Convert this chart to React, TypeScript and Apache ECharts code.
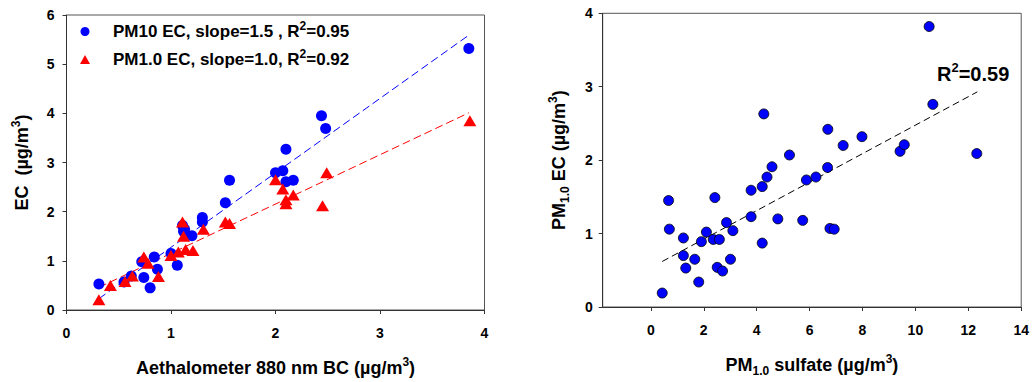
import React, { useEffect, useRef } from "react";
import * as echarts from "echarts";

// Left panel: Aethalometer BC vs EC
const pm10BC = [0.31, 0.55, 0.62, 0.72, 0.74, 0.80, 0.84, 0.87, 1.00, 1.06, 1.11, 1.13, 1.12, 1.20, 1.30, 1.30, 1.52, 1.56, 2.00, 2.07, 2.10, 2.10, 2.17, 2.44, 2.48, 3.85];
const pm10EC = [0.53, 0.57, 0.69, 0.98, 0.66, 0.45, 1.08, 0.83, 1.15, 0.91, 1.72, 1.64, 1.60, 1.51, 1.88, 1.79, 2.18, 2.64, 2.79, 2.83, 3.27, 2.61, 2.64, 3.95, 3.69, 5.32];
const pm1BC = [0.31, 0.42, 0.56, 0.63, 0.74, 0.78, 0.88, 1.00, 1.07, 1.11, 1.12, 1.14, 1.21, 1.31, 1.52, 1.56, 2.00, 2.07, 2.10, 2.10, 2.17, 2.45, 2.49, 3.86];
const pm1EC = [0.21, 0.50, 0.58, 0.69, 1.08, 0.95, 0.68, 1.11, 1.18, 1.79, 1.50, 1.23, 1.21, 1.64, 1.79, 1.76, 2.65, 2.46, 2.24, 2.16, 2.34, 2.12, 2.79, 3.85];
const pm10FitX = [0.31, 3.85];
const pm10FitY = [0.23, 5.59];
const pm1FitX = [0.31, 3.85];
const pm1FitY = [0.46, 4.01];

// Right panel: PM1.0 sulfate vs PM1.0 EC
const sulfate = [0.43, 0.67, 0.70, 1.23, 1.23, 1.32, 1.66, 1.81, 1.91, 2.10, 2.36, 2.42, 2.51, 2.59, 2.71, 2.86, 3.01, 3.10, 3.79, 3.79, 4.21, 4.21, 4.27, 4.39, 4.58, 4.80, 5.24, 5.74, 5.88, 6.24, 6.68, 6.69, 6.77, 6.93, 7.27, 7.98, 9.42, 9.58, 10.52, 10.66, 12.32];
const ecPM1 = [0.19, 1.45, 1.06, 0.94, 0.70, 0.53, 0.65, 0.34, 0.89, 1.02, 0.92, 1.49, 0.54, 0.92, 0.49, 1.15, 0.65, 1.04, 1.59, 1.23, 0.87, 1.64, 2.63, 1.77, 1.91, 1.20, 2.07, 1.18, 1.73, 1.77, 1.90, 2.42, 1.07, 1.06, 2.20, 2.32, 2.12, 2.21, 3.82, 2.76, 2.09];
const sulfFitX = [0.43, 12.34];
const sulfFitY = [0.62, 2.93];

const leftXTicks = [0, 1, 2, 3, 4];
const leftYTicks = [0, 1, 2, 3, 4, 5, 6];
const rightXTicks = [0, 2, 4, 6, 8, 10, 12, 14];
const rightYTicks = [0, 1, 2, 3, 4];

const legendLabels: Record<string, string> = {
  "PM10 EC": "{b|PM10 EC, slope=1.5 , R}{sup|2}{b|=0.95}",
  "PM1.0 EC": "{b|PM1.0 EC, slope=1.0, R}{sup|2}{b|=0.92}",
};

const FONT = "'Liberation Sans', Arial, Helvetica, sans-serif";

const pairs = (xs: number[], ys: number[]) => xs.map((x, i) => [x, ys[i]]);

function richFor(size: number, supSize: number) {
  return {
    b: { fontFamily: FONT, fontWeight: "bold", fontSize: size, color: "#000", lineHeight: size + 6 },
    sup: { fontFamily: FONT, fontWeight: "bold", fontSize: supSize, color: "#000", lineHeight: supSize + 2, verticalAlign: "top" },
    sub: { fontFamily: FONT, fontWeight: "bold", fontSize: supSize, color: "#000", lineHeight: supSize + 2, verticalAlign: "bottom" },
  };
}

export default function App() {
  const ref = useRef<HTMLDivElement>(null);
  useEffect(() => {
    const chart = echarts.init(ref.current!, null, { renderer: "svg" });
    const axisLine = { show: true, onZero: false, lineStyle: { color: "#333", width: 1 } };
    const axisTick = { show: true, inside: false, length: 4, lineStyle: { color: "#333", width: 1 } };
    const tickLabel = { fontFamily: FONT, fontWeight: "bold", fontSize: 14, color: "#000" };
    chart.setOption({
      animation: false,
      backgroundColor: "#fff",
      grid: [
        { left: 66.5, top: 15, width: 418, height: 300.7, show: true, borderColor: "#555", borderWidth: 1, containLabel: false },
        { left: 602.7, top: 13.3, width: 420, height: 301.7, show: true, borderColor: "#555", borderWidth: 1, containLabel: false },
      ],
      legend: {
        orient: "vertical",
        left: 80,
        top: 20,
        padding: 0,
        itemGap: 8,
        itemWidth: 10,
        itemHeight: 9,
        data: [
          { name: "PM10 EC", icon: "circle" },
          { name: "PM1.0 EC", icon: "triangle" },
        ],
        formatter: (n: string) => legendLabels[n],
        textStyle: { padding: [0, 0, 0, 18], rich: richFor(17, 12) },
      },
      xAxis: [
        {
          gridIndex: 0, type: "value", min: 0, max: 4, interval: 1,
          axisLine, axisTick, splitLine: { show: false },
          axisLabel: { ...tickLabel, margin: 16, customValues: leftXTicks },
          name: "{b|Aethalometer 880 nm BC (µg/m}{sup|3}{b|)}",
          nameLocation: "middle", nameGap: 46,
          nameTextStyle: { rich: richFor(18, 12) },
        },
        {
          gridIndex: 1, type: "value", min: -1.82, max: 14,
          axisLine, splitLine: { show: false },
          axisTick: { ...axisTick, customValues: rightXTicks },
          axisLabel: { ...tickLabel, margin: 16, customValues: rightXTicks },
          name: "{b|PM}{sub|1.0}{b| sulfate (µg/m}{sup|3}{b|)}",
          nameLocation: "middle", nameGap: 46,
          nameTextStyle: { rich: richFor(18, 12) },
        },
      ],
      yAxis: [
        {
          gridIndex: 0, type: "value", min: 0, max: 6, interval: 1,
          axisLine, axisTick, splitLine: { show: false },
          axisLabel: { ...tickLabel, margin: 12, customValues: leftYTicks },
          name: "{b|EC  (µg/m}{sup|3}{b|)}",
          nameLocation: "middle", nameGap: 33, nameRotate: 90,
          nameTextStyle: { rich: richFor(18, 12) },
        },
        {
          gridIndex: 1, type: "value", min: 0, max: 4, interval: 1,
          axisLine, axisTick, splitLine: { show: false },
          axisLabel: { ...tickLabel, margin: 10, customValues: rightYTicks },
          name: "{b|PM}{sub|1.0}{b| EC (µg/m}{sup|3}{b|)}",
          nameLocation: "middle", nameGap: 32, nameRotate: 90,
          nameTextStyle: { rich: richFor(18, 12) },
        },
      ],
      series: [
        {
          name: "PM10 EC fit", type: "line", xAxisIndex: 0, yAxisIndex: 0,
          data: pairs(pm10FitX, pm10FitY), symbol: "none",
          lineStyle: { color: "#0000ff", width: 1, type: [8, 4] }, silent: true, z: 1,
        },
        {
          name: "PM1.0 EC fit", type: "line", xAxisIndex: 0, yAxisIndex: 0,
          data: pairs(pm1FitX, pm1FitY), symbol: "none",
          lineStyle: { color: "#ff0000", width: 1, type: [8, 4] }, silent: true, z: 1,
        },
        {
          name: "PM10 EC", type: "scatter", xAxisIndex: 0, yAxisIndex: 0,
          data: pairs(pm10BC, pm10EC), symbol: "circle", symbolSize: 11,
          itemStyle: { color: "#0000ff", opacity: 1 }, z: 2,
        },
        {
          name: "PM1.0 EC", type: "scatter", xAxisIndex: 0, yAxisIndex: 0,
          data: pairs(pm1BC, pm1EC), symbol: "triangle", symbolSize: [13, 11],
          itemStyle: { color: "#ff0000", opacity: 1 }, z: 3,
        },
        {
          name: "Sulfate fit", type: "line", xAxisIndex: 1, yAxisIndex: 1,
          data: pairs(sulfFitX, sulfFitY), symbol: "none",
          lineStyle: { color: "#000", width: 1, type: [7, 4] }, silent: true, z: 1,
        },
        {
          name: "PM1.0 EC vs sulfate", type: "scatter", xAxisIndex: 1, yAxisIndex: 1,
          data: pairs(sulfate, ecPM1), symbol: "circle", symbolSize: 10,
          itemStyle: { color: "#0000ff", borderColor: "#000", borderWidth: 0.8, opacity: 1 }, z: 2,
        },
      ],
      graphic: [
        {
          type: "text", left: 937, top: 61, z: 10,
          style: { text: "{b|R}{sup|2}{b|=0.59}", rich: richFor(20, 13) },
        },
      ],
    });
    return () => chart.dispose();
  }, []);
  return (
    <div
      ref={ref}
      style={{ position: "absolute", left: 0, top: 0, width: 1032, height: 382, background: "#fff" }}
    />
  );
}
